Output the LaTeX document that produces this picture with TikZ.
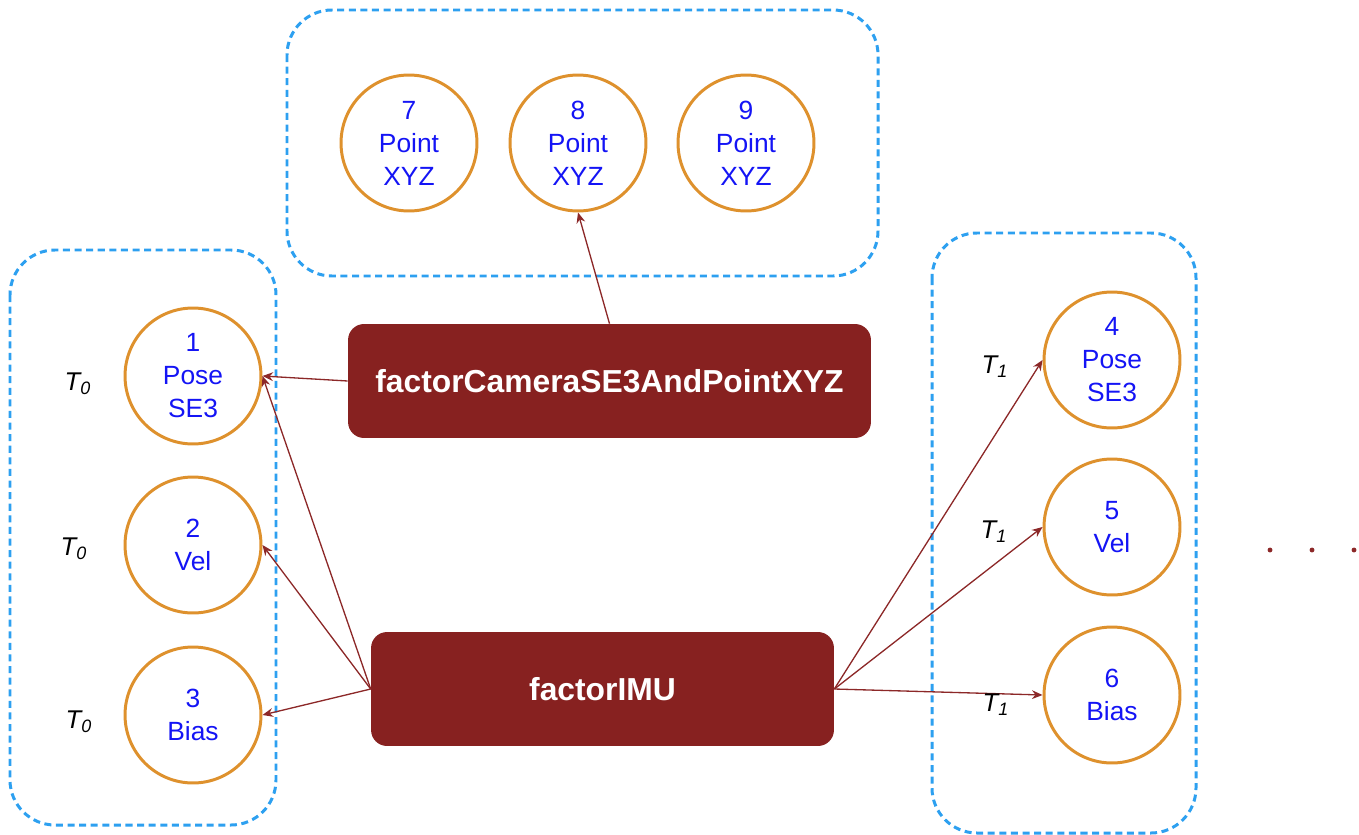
\documentclass[tikz,border=0pt]{standalone}
\usepackage{fontspec}
\setmainfont{Liberation Sans}
\usepackage{tikz}
\usetikzlibrary{arrows.meta}
\definecolor{groupblue}{RGB}{45,160,240}
\definecolor{varorange}{RGB}{222,145,45}
\definecolor{factorred}{RGB}{135,33,32}
\definecolor{edgered}{RGB}{140,40,40}
\definecolor{labelblue}{RGB}{20,20,245}

\tikzset{
    group/.style={draw=groupblue, line width=1.7pt, dash pattern=on 4pt off 2.6pt, rounded corners=0.9cm},
    var/.style={circle, draw=varorange, line width=1.7pt, minimum size=2.72cm, inner sep=0pt, align=center,
        text=labelblue, font=\fontsize{15}{18.8}\selectfont},
    factor/.style={rectangle, fill=factorred, rounded corners=0.32cm, minimum height=2.28cm, text=white,
        font=\fontsize{18.1}{22}\selectfont\bfseries},
    edge/.style={draw=edgered, line width=0.75pt, -{Stealth[length=6pt, width=5pt]}},
    tlabel/.style={font=\fontsize{14.6}{18}\selectfont\itshape}
}

\begin{document}
\begin{tikzpicture}[x=0.02cm, y=-0.02cm]
    \useasboundingbox (0,0) rectangle (1359,835);

    % groups
    \draw[group] (287,10) rectangle (878,276);
    \draw[group] (10,250) rectangle (276,825);
    \draw[group] (932,233) rectangle (1196,833);

    % variables
    \node[var] (c7) at (409,143) {7\\Point\\XYZ};
    \node[var] (c8) at (578,143) {8\\Point\\XYZ};
    \node[var] (c9) at (746,143) {9\\Point\\XYZ};
    \node[var] (c1) at (193,376) {1\\Pose\\SE3};
    \node[var] (c2) at (193,545) {2\\Vel};
    \node[var] (c3) at (193,715) {3\\Bias};
    \node[var] (c4) at (1112,360) {4\\Pose\\SE3};
    \node[var] (c5) at (1112,527) {5\\Vel};
    \node[var] (c6) at (1112,695) {6\\Bias};

    % factors
    \node[factor, minimum width=10.46cm] (cam) at (609.5,381) {factorCameraSE3AndPointXYZ};
    \node[factor, minimum width=9.26cm] (imu) at (602.5,689) {factorIMU};

    % edges
    \draw[edge] (cam.west) -- (c1.east);
    \draw[edge] (cam.north) -- (c8.south);
    \draw[edge] (imu.west) -- (c1.east);
    \draw[edge] (imu.west) -- (c2.east);
    \draw[edge] (imu.west) -- (c3.east);
    \draw[edge] (imu.east) -- (c4.west);
    \draw[edge] (imu.east) -- (c5.west);
    \draw[edge] (imu.east) -- (c6.west);

    % time labels
    \node[tlabel] (t1) at (78,384) {T\textsubscript{0}};
    \node[tlabel] (t2) at (74,549) {T\textsubscript{0}};
    \node[tlabel] (t3) at (79,722) {T\textsubscript{0}};
    \node[tlabel] (t4) at (995,367) {T\textsubscript{1}};
    \node[tlabel] (t5) at (994,532) {T\textsubscript{1}};
    \node[tlabel] (t6) at (996,705) {T\textsubscript{1}};

    % more states
    \foreach \x in {1270,1312,1354}
        \fill[edgered] (\x,550) circle (1.4pt);
\end{tikzpicture}
\end{document}
